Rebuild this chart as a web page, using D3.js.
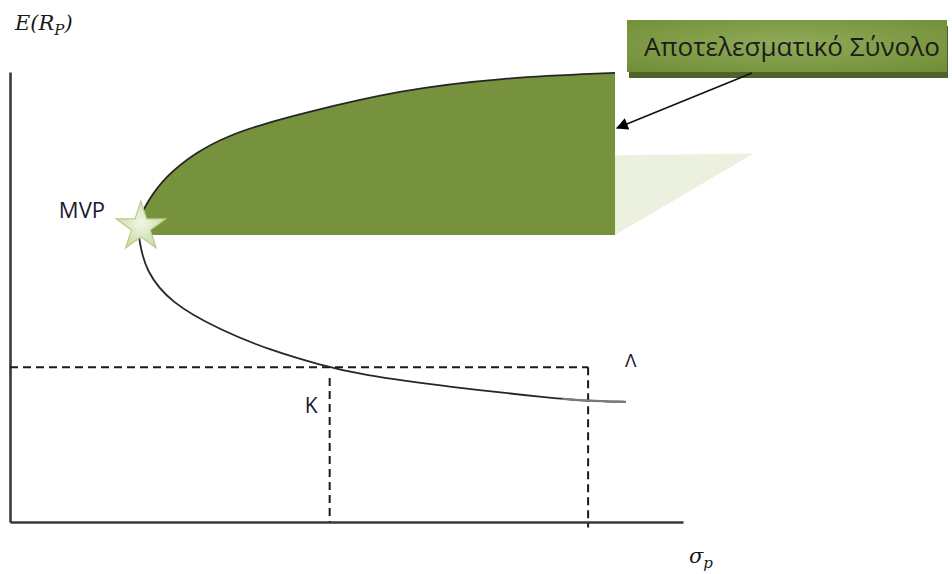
<!DOCTYPE html>
<html>
<head>
<meta charset="utf-8">
<script src="https://cdn.jsdelivr.net/npm/d3@7"></script>
<style>
  html, body { margin: 0; padding: 0; background: #ffffff; }
  svg { display: block; }
</style>
</head>
<body>
<svg id="chart" width="952" height="574"></svg>
<script>
// Portfolio frontier (risk σ vs expected return), from the lower tail through the MVP to the top
const frontierSigma  = [91.5, 85.9, 80.2, 65.4, 52.0, 46.1, 38.6, 31.2, 23.8, 20.1, 19.3, 18.95, 19.5, 20.3, 22.8, 27.7, 32.7, 37.6, 43.1, 57.9, 72.8, 89.9];
const frontierReturn = [26.7, 26.9, 27.6, 30.0, 32.7, 34.9, 38.2, 42.7, 48.7, 56.0, 62.0, 65.3, 68.4, 70.8, 76.4, 82.3, 86.0, 88.4, 90.7, 96.0, 98.7, 99.8];

// Minimum variance portfolio and the floor of the efficient set
const mvpPoint = { sigma: 19.3, ret: 66.0, label: "MVP" };
const efficientFloor = 63.8;

// Two portfolios with the same expected return
const portK      = { sigma: 47.5, ret: 34.4, curveRet: 32.0, label: "K" };
const portLambda = { sigma: 85.9, ret: 34.4, label: "Λ" };

const calloutText = "Αποτελεσματικό Σύνολο";
const xDomain = [0, 100];
const yDomain = [0, 100];

const svg = d3.select("#chart");
const x = d3.scaleLinear().domain(xDomain).range([10, 683]);
const y = d3.scaleLinear().domain(yDomain).range([522, 72]);

const pts = frontierSigma.map((s, i) => ({ sigma: s, ret: frontierReturn[i] }));
const line = d3.line().x(d => x(d.sigma)).y(d => y(d.ret)).curve(d3.curveBasis);

const defs = svg.append("defs");
const boxGrad = defs.append("radialGradient").attr("id", "boxGrad")
  .attr("cx", "50%").attr("cy", "45%").attr("r", "75%");
boxGrad.append("stop").attr("offset", "0%").attr("stop-color", "#90ab58");
boxGrad.append("stop").attr("offset", "100%").attr("stop-color", "#6f8c36");
const starGrad = defs.append("radialGradient").attr("id", "starGrad")
  .attr("cx", "50%").attr("cy", "45%").attr("r", "60%");
starGrad.append("stop").attr("offset", "0%").attr("stop-color", "#f1f6e6");
starGrad.append("stop").attr("offset", "100%").attr("stop-color", "#c6d9a0");
defs.append("marker").attr("id", "arrowHead")
  .attr("viewBox", "0 0 10 10").attr("refX", 9).attr("refY", 5)
  .attr("markerWidth", 14).attr("markerHeight", 12).attr("markerUnits", "userSpaceOnUse")
  .attr("orient", "auto")
  .append("path").attr("d", "M0,0 L10,5 L0,10 Z").attr("fill", "#000");
// lower-right corner only: the light tail of the frontier
defs.append("clipPath").attr("id", "tailClip")
  .append("rect").attr("x", x(82)).attr("y", y(50)).attr("width", 952 - x(82)).attr("height", 574 - y(50));
defs.append("clipPath").attr("id", "setClip")
  .append("rect").attr("x", 0).attr("y", 0).attr("width", 952).attr("height", y(efficientFloor));

// Callout pointer (pale shape behind the efficient set)
const rightEdge = frontierSigma[frontierSigma.length - 1];
svg.append("path")
  .attr("d", `M${x(rightEdge)},${y(81.5)} L${x(110.5)},${y(81.9)} L${x(rightEdge)},${y(efficientFloor)} Z`)
  .attr("fill", "#ebf1de");

// Efficient set: region right of the frontier and above the floor
svg.append("path")
  .attr("d", line(pts) + ` L${x(rightEdge)},${y(frontierReturn[0])} Z`)
  .attr("clip-path", "url(#setClip)")
  .attr("fill", "#76923c");

// Axes (no ticks)
const xAxis = d3.axisBottom(x).tickValues([]).tickSizeOuter(0);
const yAxis = d3.axisLeft(y).tickValues([]).tickSizeOuter(0);
const gx = svg.append("g").attr("transform", `translate(0,${y(0)})`).call(xAxis);
const gy = svg.append("g").attr("transform", `translate(${x(0)},0)`).call(yAxis);
[gx, gy].forEach(g => g.select(".domain").attr("stroke", "#3a3a3a").attr("stroke-width", 2.6));

// Dashed guides for K and Λ
const dash = "8,5";
const guides = svg.append("g").attr("stroke", "#1a1a1a").attr("stroke-width", 2).attr("stroke-dasharray", dash).attr("fill", "none");
guides.append("line").attr("x1", x(0)).attr("y1", y(portLambda.ret)).attr("x2", x(portLambda.sigma)).attr("y2", y(portLambda.ret));
guides.append("line").attr("x1", x(portLambda.sigma)).attr("y1", y(portLambda.ret)).attr("x2", x(portLambda.sigma)).attr("y2", y(-1.2));
guides.append("line").attr("x1", x(portK.sigma)).attr("y1", y(portK.curveRet)).attr("x2", x(portK.sigma)).attr("y2", y(0));

// Frontier curve, with a lighter tail
svg.append("path").attr("d", line(pts)).attr("fill", "none")
  .attr("stroke", "#262626").attr("stroke-width", 1.8);
svg.append("path").attr("d", line(pts)).attr("fill", "none").attr("clip-path", "url(#tailClip)")
  .attr("stroke", "#7a7a7a").attr("stroke-width", 2.2);

// MVP star
const star = d3.symbol().type(d3.symbolStar).size(760);
svg.append("path")
  .attr("d", star())
  .attr("transform", `translate(${x(mvpPoint.sigma) + 1},${y(mvpPoint.ret) + 2})`)
  .attr("fill", "url(#starGrad)")
  .attr("stroke", "#b5cc88").attr("stroke-width", 1.2);

// Point labels
const lab = svg.append("g").attr("font-family", "'Open Sans', sans-serif").attr("fill", "#1a1a2e");
lab.append("text").attr("x", 105).attr("y", 218).attr("text-anchor", "end").attr("font-size", 22).text(mvpPoint.label);
lab.append("text").attr("x", x(portK.sigma) - 25).attr("y", 413).attr("font-size", 21).text(portK.label);
lab.append("text").attr("x", x(portLambda.sigma) + 37).attr("y", 367).attr("font-size", 19).text(portLambda.label);

// Axis titles
const yt = svg.append("text").attr("x", 15).attr("y", 30)
  .attr("font-family", "'DejaVu Serif', serif").attr("font-style", "italic").attr("font-size", 21).attr("fill", "#1a1a1a");
yt.append("tspan").text("E(R");
yt.append("tspan").attr("font-size", 15).attr("dy", 5).text("P");
yt.append("tspan").attr("dy", -5).text(")");
const xt = svg.append("text").attr("x", 689).attr("y", 563)
  .attr("font-family", "'DejaVu Serif', serif").attr("font-style", "italic").attr("font-size", 21).attr("fill", "#1a1a1a");
xt.append("tspan").text("σ");
xt.append("tspan").attr("font-size", 15).attr("dy", 5).text("p");

// Callout box
svg.append("rect").attr("x", 629).attr("y", 26).attr("width", 319).attr("height", 52).attr("fill", "#4f6228");
svg.append("rect").attr("x", 627).attr("y", 20).attr("width", 320).attr("height", 52).attr("fill", "url(#boxGrad)");
const ct = svg.append("text").attr("x", 792).attr("y", 56).attr("text-anchor", "middle")
  .attr("font-family", "'Open Sans', sans-serif").attr("font-size", 22).attr("fill", "#1c1c1c").text(calloutText);
const w = ct.node().getComputedTextLength();
ct.attr("font-size", 22 * 296 / w);

// Arrow from the box to the efficient set
svg.append("line").attr("x1", 752).attr("y1", 73).attr("x2", x(rightEdge) + 2).attr("y2", 128)
  .attr("stroke", "#111").attr("stroke-width", 1.6).attr("marker-end", "url(#arrowHead)");
</script>
</body>
</html>
